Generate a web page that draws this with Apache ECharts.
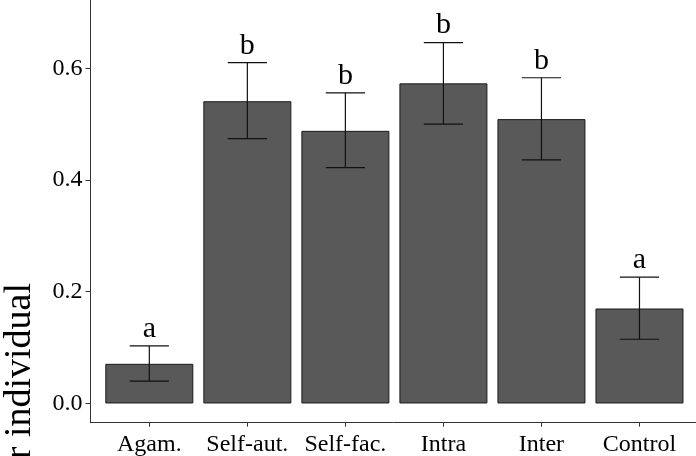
<!DOCTYPE html>
<html>
<head>
<meta charset="utf-8">
<script src="https://cdn.jsdelivr.net/npm/echarts@6/dist/echarts.min.js"></script>
<style>html,body{margin:0;padding:0;background:#fff}#c{width:696px;height:456px}</style>
</head>
<body>
<div id="c"></div>
<script>
var categories = ['Agam.', 'Self-aut.', 'Self-fac.', 'Intra', 'Inter', 'Control'];
var means = [0.071, 0.541, 0.488, 0.573, 0.509, 0.170];
var upper = [0.103, 0.610, 0.556, 0.646, 0.583, 0.226];
var lower = [0.040, 0.474, 0.422, 0.500, 0.436, 0.115];
var letters = ['a', 'b', 'b', 'b', 'b', 'a'];
var yTicks = [0, 0.2, 0.4, 0.6];
var yTitle = 'Seeds per individual';

var positions = categories.map(function (c, i) { return i + 1; });
var FONT = 'Liberation Serif';

var chart = echarts.init(document.getElementById('c'), null, {renderer: 'canvas'});
chart.setOption({
  animation: false,
  backgroundColor: '#fff',
  grid: {left: 90.5, right: -2.3, top: 0, bottom: 33.3, containLabel: false, outerBoundsMode: 'none'},
  xAxis: {
    type: 'value', min: 0.4, max: 6.6,
    splitLine: {show: false},
    axisLine: {show: true, onZero: false, lineStyle: {color: '#333', width: 1}},
    axisTick: {show: true, customValues: positions, length: 4, lineStyle: {color: '#333'}},
    axisLabel: {
      customValues: positions, margin: 10,
      fontFamily: FONT, fontSize: 24, color: '#000',
      formatter: function (v) { return categories[Math.round(v) - 1] || ''; }
    }
  },
  yAxis: {
    type: 'value', min: -0.0344, max: 0.7222,
    splitLine: {show: false},
    axisLine: {show: true, onZero: false, lineStyle: {color: '#333', width: 1}},
    axisTick: {show: true, customValues: yTicks, length: 5, lineStyle: {color: '#333'}},
    axisLabel: {
      customValues: yTicks, margin: 8,
      fontFamily: FONT, fontSize: 24, color: '#000',
      formatter: function (v) { return v.toFixed(1); }
    }
  },
  graphic: [{
    type: 'text',
    x: 19.6, y: 283,
    rotation: Math.PI / 2,
    style: {text: yTitle, fontFamily: FONT, fontSize: 38, fill: '#000', align: 'right', verticalAlign: 'middle'}
  }],
  series: [
    {
      type: 'bar',
      barWidth: 88,
      data: positions.map(function (p, i) { return [p, means[i]]; }),
      itemStyle: {color: '#595959', borderColor: '#1a1a1a', borderWidth: 1}
    },
    {
      type: 'custom',
      data: positions.map(function (p, i) { return [p, lower[i], upper[i]]; }),
      renderItem: function (params, api) {
        var x = api.value(0);
        var lo = api.coord([x, api.value(1)]);
        var hi = api.coord([x, api.value(2)]);
        var half = api.size([0.4, 0])[0] / 2;
        var st = {stroke: '#111', lineWidth: 1.2};
        return {
          type: 'group',
          children: [
            {type: 'line', shape: {x1: lo[0], y1: lo[1], x2: hi[0], y2: hi[1]}, style: st},
            {type: 'line', shape: {x1: hi[0] - half, y1: hi[1], x2: hi[0] + half, y2: hi[1]}, style: st},
            {type: 'line', shape: {x1: lo[0] - half, y1: lo[1], x2: lo[0] + half, y2: lo[1]}, style: st}
          ]
        };
      },
      z: 5
    },
    {
      type: 'custom',
      data: positions.map(function (p, i) { return [p, upper[i], i]; }),
      renderItem: function (params, api) {
        var x = api.value(0);
        var hi = api.coord([x, api.value(1)]);
        return {
          type: 'text',
          x: hi[0], y: hi[1] - 17,
          style: {text: letters[api.value(2)], fontFamily: FONT, fontSize: 30, fill: '#000', align: 'center', verticalAlign: 'middle'}
        };
      },
      z: 6
    }
  ]
});
</script>
</body>
</html>
